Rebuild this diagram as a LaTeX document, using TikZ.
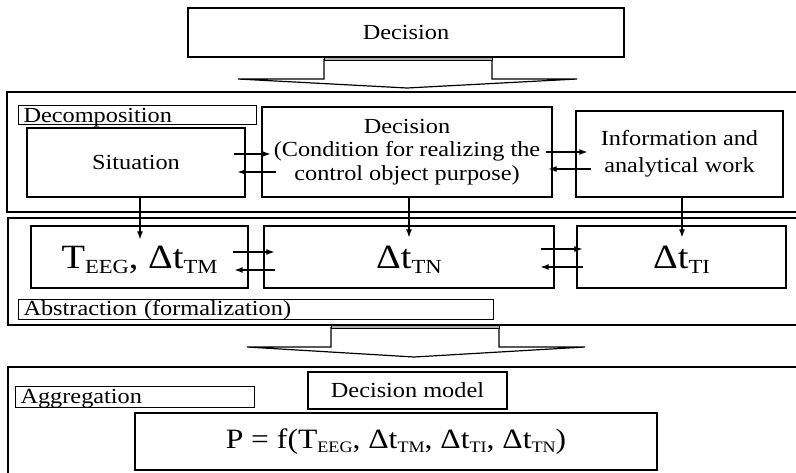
\documentclass[tikz,border=0pt]{standalone}
\usepackage{fontspec}
\setmainfont{Liberation Serif}[FakeStretch=1.13]
\usetikzlibrary{arrows.meta,calc}
\newcommand\lsub[3]{\raisebox{-#2}{\fontsize{#1}{#1}\selectfont #3}}
\tikzset{
  txt/.style={font=\fontsize{21.5}{23.5}\selectfont},
  box/.style={draw, line width=1.3pt, inner sep=0pt, align=center, txt},
  lbl/.style={draw, line width=1.1pt, anchor=north west, inner xsep=5pt, inner ysep=0pt, align=left, txt},
  arr/.style={line width=1.1pt, -{Latex[length=8pt,width=6pt]}},
  outerbox/.style={draw, line width=1.4pt},
  bigarrow/.style={draw, line width=1.2pt, fill=white, line join=miter},
  strip/.style={draw, line width=0.8pt, fill=gray!60},
  bigtxt/.style={font=\fontsize{34}{34}\selectfont, text height=22pt, text depth=0pt},
}
\begin{document}
\begin{tikzpicture}[x=1pt,y=-1pt]
\useasboundingbox (0,0) rectangle (796,472);
\clip (0,0) rectangle (796,472);

% outer frames
\draw[outerbox] (7,92) rectangle (806,212);
\draw[outerbox] (8,218) rectangle (806,325);
\draw[outerbox] (8,367) rectangle (806,480);

% top decision
\node[box, minimum width=436pt, minimum height=49pt] (topdec) at (406,32.5) {Decision};

% big arrow 1
\draw[bigarrow] (324,59) -- (324,79) -- (238,79) -- (407,88) -- (577,79) -- (492,79) -- (492,59);
\draw[strip] (324,57) rectangle (492,60);

% decomposition row
\node[lbl, text width=228pt, text height=16.5pt, text depth=2.5pt] (ldec) at (18,105) {Decomposition};
\node[box, minimum width=218pt, minimum height=69pt] (sit) at (136,162.5) {Situation};
\node[box, minimum width=290pt, minimum height=90pt] (dec) at (407,152)
  {Decision\\(Condition for realizing the\\control object purpose)};
\node[box, minimum width=207pt, minimum height=86pt, font=\fontsize{21.5}{27}\selectfont] (info) at (679.5,154)
  {Information and\\analytical work};

\draw[arr] ($(sit.east)+(-12,-8.5)$) -- ($(dec.west)+(9,2)$);
\draw[arr] ($(dec.west)+(15,20)$) -- ($(sit.east)+(-8,9.5)$);
\draw[arr] ($(dec.east)+(-7,0)$) -- ($(info.west)+(12,-2)$);
\draw[arr] ($(info.west)+(16,15)$) -- ($(dec.east)+(-4,17)$);

% abstraction row
\node[box, bigtxt, minimum width=217pt, minimum height=62pt] (teeg) at (139.5,257)
  {T\lsub{20}{5pt}{EEG}, Δt\lsub{20}{5pt}{TM}};
\node[box, bigtxt, minimum width=290pt, minimum height=62pt] (tn) at (409,257)
  {Δt\lsub{20}{5pt}{TN}};
\node[box, bigtxt, minimum width=209pt, minimum height=62pt] (ti) at (681.5,257)
  {Δt\lsub{20}{5pt}{TI}};
\node[lbl, text width=465pt, text height=16pt, text depth=4pt] (labs) at (18,299) {Abstraction (formalization)};

\draw[arr] ($(sit.south)+(4,0)$) -- ($(teeg.north)+(0.5,14)$);
\draw[arr] ($(dec.south)+(2,0)$) -- ($(tn.north)+(0,12)$);
\draw[arr] ($(info.south)+(2.5,0)$) -- ($(ti.north)+(0.5,12)$);

\draw[arr] ($(teeg.east)+(-16,-5)$) -- ($(tn.west)+(11,-5)$);
\draw[arr] ($(tn.west)+(12,13)$) -- ($(teeg.east)+(-14,13)$);
\draw[arr] ($(tn.east)+(-14,-8)$) -- ($(ti.west)+(6,-8)$);
\draw[arr] ($(ti.west)+(7,10)$) -- ($(tn.east)+(-14,10)$);

% big arrow 2
\draw[bigarrow] (331,327) -- (331,347) -- (247,347) -- (414,357) -- (585,347) -- (499,347) -- (499,327);
\draw[strip] (331,325) rectangle (499,328);

% aggregation row
\node[lbl, text width=229pt, text height=17pt, text depth=4pt] (lagg) at (15,386) {Aggregation};
\node[box, minimum width=199pt, minimum height=37pt] (dmod) at (407.5,390.5) {Decision model};
\node[box, minimum width=522pt, minimum height=57pt, font=\fontsize{28}{28}\selectfont] (form) at (396,441.5)
  {P = f(T\lsub{16}{4pt}{EEG}, Δt\lsub{16}{4pt}{TM}, Δt\lsub{16}{4pt}{TI}, Δt\lsub{16}{4pt}{TN})};
\end{tikzpicture}
\end{document}
